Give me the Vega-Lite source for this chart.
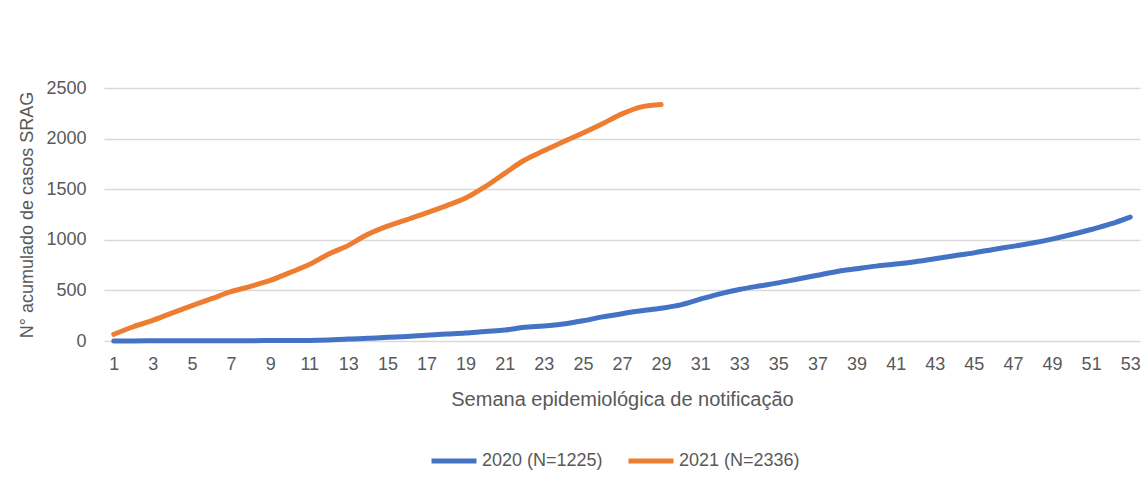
{
  "$schema": "https://vega.github.io/schema/vega-lite/v6.json",
  "width": 1036,
  "height": 253,
  "autosize": {"type": "none"},
  "padding": {"left": 104, "top": 88, "right": 5, "bottom": 153},
  "background": "white",
  "config": {
    "view": {"stroke": null},
    "font": "Liberation Sans",
    "axis": {"labelColor": "#595959", "titleColor": "#595959", "titleFontWeight": "normal"}
  },
  "data": {
    "values": [
      {"semana": 1, "serie": "2020 (N=1225)", "casos": 1},
      {"semana": 2, "serie": "2020 (N=1225)", "casos": 1},
      {"semana": 3, "serie": "2020 (N=1225)", "casos": 2},
      {"semana": 4, "serie": "2020 (N=1225)", "casos": 2},
      {"semana": 5, "serie": "2020 (N=1225)", "casos": 2},
      {"semana": 6, "serie": "2020 (N=1225)", "casos": 3},
      {"semana": 7, "serie": "2020 (N=1225)", "casos": 3},
      {"semana": 8, "serie": "2020 (N=1225)", "casos": 3},
      {"semana": 9, "serie": "2020 (N=1225)", "casos": 4},
      {"semana": 10, "serie": "2020 (N=1225)", "casos": 4},
      {"semana": 11, "serie": "2020 (N=1225)", "casos": 5},
      {"semana": 12, "serie": "2020 (N=1225)", "casos": 10},
      {"semana": 13, "serie": "2020 (N=1225)", "casos": 20},
      {"semana": 14, "serie": "2020 (N=1225)", "casos": 26},
      {"semana": 15, "serie": "2020 (N=1225)", "casos": 36},
      {"semana": 16, "serie": "2020 (N=1225)", "casos": 45},
      {"semana": 17, "serie": "2020 (N=1225)", "casos": 57},
      {"semana": 18, "serie": "2020 (N=1225)", "casos": 68},
      {"semana": 19, "serie": "2020 (N=1225)", "casos": 78},
      {"semana": 20, "serie": "2020 (N=1225)", "casos": 95},
      {"semana": 21, "serie": "2020 (N=1225)", "casos": 108},
      {"semana": 22, "serie": "2020 (N=1225)", "casos": 135},
      {"semana": 23, "serie": "2020 (N=1225)", "casos": 148},
      {"semana": 24, "serie": "2020 (N=1225)", "casos": 168},
      {"semana": 25, "serie": "2020 (N=1225)", "casos": 200},
      {"semana": 26, "serie": "2020 (N=1225)", "casos": 238},
      {"semana": 27, "serie": "2020 (N=1225)", "casos": 270},
      {"semana": 28, "serie": "2020 (N=1225)", "casos": 298},
      {"semana": 29, "serie": "2020 (N=1225)", "casos": 324},
      {"semana": 30, "serie": "2020 (N=1225)", "casos": 357},
      {"semana": 31, "serie": "2020 (N=1225)", "casos": 413},
      {"semana": 32, "serie": "2020 (N=1225)", "casos": 466},
      {"semana": 33, "serie": "2020 (N=1225)", "casos": 509},
      {"semana": 34, "serie": "2020 (N=1225)", "casos": 543},
      {"semana": 35, "serie": "2020 (N=1225)", "casos": 574},
      {"semana": 36, "serie": "2020 (N=1225)", "casos": 613},
      {"semana": 37, "serie": "2020 (N=1225)", "casos": 649},
      {"semana": 38, "serie": "2020 (N=1225)", "casos": 687},
      {"semana": 39, "serie": "2020 (N=1225)", "casos": 714},
      {"semana": 40, "serie": "2020 (N=1225)", "casos": 740},
      {"semana": 41, "serie": "2020 (N=1225)", "casos": 760},
      {"semana": 42, "serie": "2020 (N=1225)", "casos": 784},
      {"semana": 43, "serie": "2020 (N=1225)", "casos": 813},
      {"semana": 44, "serie": "2020 (N=1225)", "casos": 842},
      {"semana": 45, "serie": "2020 (N=1225)", "casos": 871},
      {"semana": 46, "serie": "2020 (N=1225)", "casos": 905},
      {"semana": 47, "serie": "2020 (N=1225)", "casos": 935},
      {"semana": 48, "serie": "2020 (N=1225)", "casos": 968},
      {"semana": 49, "serie": "2020 (N=1225)", "casos": 1007},
      {"semana": 50, "serie": "2020 (N=1225)", "casos": 1052},
      {"semana": 51, "serie": "2020 (N=1225)", "casos": 1102},
      {"semana": 52, "serie": "2020 (N=1225)", "casos": 1157},
      {"semana": 53, "serie": "2020 (N=1225)", "casos": 1225},
      {"semana": 1, "serie": "2021 (N=2336)", "casos": 66},
      {"semana": 2, "serie": "2021 (N=2336)", "casos": 141},
      {"semana": 3, "serie": "2021 (N=2336)", "casos": 204},
      {"semana": 4, "serie": "2021 (N=2336)", "casos": 278},
      {"semana": 5, "serie": "2021 (N=2336)", "casos": 349},
      {"semana": 6, "serie": "2021 (N=2336)", "casos": 418},
      {"semana": 7, "serie": "2021 (N=2336)", "casos": 487},
      {"semana": 8, "serie": "2021 (N=2336)", "casos": 540},
      {"semana": 9, "serie": "2021 (N=2336)", "casos": 598},
      {"semana": 10, "serie": "2021 (N=2336)", "casos": 675},
      {"semana": 11, "serie": "2021 (N=2336)", "casos": 755},
      {"semana": 12, "serie": "2021 (N=2336)", "casos": 860},
      {"semana": 13, "serie": "2021 (N=2336)", "casos": 945},
      {"semana": 14, "serie": "2021 (N=2336)", "casos": 1054},
      {"semana": 15, "serie": "2021 (N=2336)", "casos": 1135},
      {"semana": 16, "serie": "2021 (N=2336)", "casos": 1200},
      {"semana": 17, "serie": "2021 (N=2336)", "casos": 1266},
      {"semana": 18, "serie": "2021 (N=2336)", "casos": 1336},
      {"semana": 19, "serie": "2021 (N=2336)", "casos": 1412},
      {"semana": 20, "serie": "2021 (N=2336)", "casos": 1525},
      {"semana": 21, "serie": "2021 (N=2336)", "casos": 1657},
      {"semana": 22, "serie": "2021 (N=2336)", "casos": 1786},
      {"semana": 23, "serie": "2021 (N=2336)", "casos": 1879},
      {"semana": 24, "serie": "2021 (N=2336)", "casos": 1968},
      {"semana": 25, "serie": "2021 (N=2336)", "casos": 2055},
      {"semana": 26, "serie": "2021 (N=2336)", "casos": 2147},
      {"semana": 27, "serie": "2021 (N=2336)", "casos": 2244},
      {"semana": 28, "serie": "2021 (N=2336)", "casos": 2313},
      {"semana": 29, "serie": "2021 (N=2336)", "casos": 2336}
    ]
  },
  "mark": {"type": "line", "strokeWidth": 5, "strokeCap": "round", "strokeJoin": "round", "interpolate": "monotone"},
  "encoding": {
    "x": {
      "field": "semana",
      "type": "quantitative",
      "scale": {"domain": [0.5, 53.5], "nice": false, "zero": false},
      "axis": {
        "values": [1,3,5,7,9,11,13,15,17,19,21,23,25,27,29,31,33,35,37,39,41,43,45,47,49,51,53],
        "format": "d",
        "grid": false,
        "domain": false,
        "ticks": false,
        "tickSize": 0,
        "labelFontSize": 18,
        "labelPadding": 14,
        "title": "Semana epidemiológica de notificação",
        "titleFontSize": 20,
        "titlePadding": 16
      }
    },
    "y": {
      "field": "casos",
      "type": "quantitative",
      "scale": {"domain": [0, 2500], "nice": false},
      "axis": {
        "values": [0, 500, 1000, 1500, 2000, 2500],
        "format": "d",
        "grid": true,
        "gridColor": "#D9D9D9",
        "gridWidth": 1.5,
        "domain": false,
        "ticks": false,
        "tickSize": 0,
        "labelFontSize": 18,
        "labelPadding": 18,
        "title": "N° acumulado de casos SRAG",
        "titleFontSize": 18,
        "titlePadding": 9
      }
    },
    "color": {
      "field": "serie",
      "type": "nominal",
      "scale": {"domain": ["2020 (N=1225)", "2021 (N=2336)"], "range": ["#4472C4", "#ED7D31"]},
      "legend": {
        "title": null,
        "orient": "none",
        "direction": "horizontal",
        "legendX": 325,
        "legendY": 348,
        "symbolType": "stroke",
        "symbolSize": 2025,
        "symbolStrokeWidth": 5,
        "labelFontSize": 18,
        "labelColor": "#595959",
        "labelOffset": 3,
        "columnPadding": 15
      }
    }
  }
}
